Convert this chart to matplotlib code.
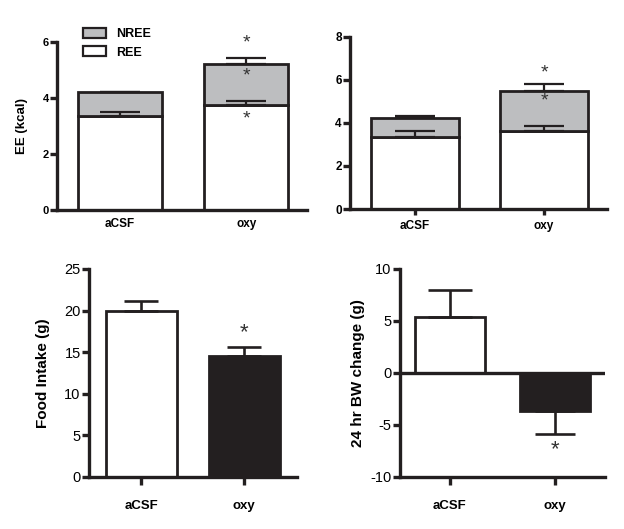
import numpy as np
import matplotlib.pyplot as plt

plt.rcParams['font.family'] = ['Liberation Sans', 'DejaVu Sans']
plt.rcParams['axes.unicode_minus'] = False

groups = ['aCSF', 'oxy']

# top left: energy expenditure, stacked REE + NREE
ee1_ree = [3.36, 3.75]
ee1_ree_err = [0.13, 0.14]
ee1_total = [4.20, 5.21]
ee1_total_err = [0.03, 0.21]
ee1_stars = [5.95, 4.8, 3.25]

# top right
ee2_ree = [3.36, 3.60]
ee2_ree_err = [0.26, 0.25]
ee2_total = [4.24, 5.50]
ee2_total_err = [0.06, 0.30]
ee2_stars = [6.3, 5.0]

# bottom left: food intake
food = [20.0, 14.5]
food_err = [1.2, 1.1]
food_star = 17.3

# bottom right: body weight change
bw = [5.4, -3.7]
bw_err = [2.6, 2.2]
bw_star = -7.4

gray = '#bdbec0'
black = '#231f20'
lw_axis = 2.4
lw_bar = 2.0

fig = plt.figure(figsize=(6.24, 5.29), dpi=100)
ax1 = fig.add_axes([0.0913, 0.603, 0.401, 0.3176])
ax2 = fig.add_axes([0.561, 0.6049, 0.412, 0.3257])
ax3 = fig.add_axes([0.1426, 0.0989, 0.333, 0.3926])
ax4 = fig.add_axes([0.6405, 0.0989, 0.329, 0.3926])

x = np.arange(len(groups))


def style(ax, tick_size, tick_bold, xticks=True, xpad=11):
    for s in ['top', 'right']:
        ax.spines[s].set_visible(False)
    for s in ['left', 'bottom']:
        ax.spines[s].set_linewidth(lw_axis)
        ax.spines[s].set_color(black)
    ax.tick_params(axis='y', width=lw_axis, length=5, labelsize=tick_size, pad=1,
                   color=black)
    ax.tick_params(axis='x', width=lw_axis, length=6 if xticks else 0, pad=xpad,
                   color=black)
    for lab in ax.get_yticklabels():
        lab.set_fontweight('bold' if tick_bold else 'normal')


def stacked(ax, ree, ree_err, total, total_err, width, cap):
    nree = [t - r for t, r in zip(total, ree)]
    ax.bar(x, ree, width, color='white', edgecolor=black, linewidth=lw_bar, zorder=2)
    ax.bar(x, nree, width, bottom=ree, color=gray, edgecolor=black, linewidth=lw_bar, zorder=2)
    ax.errorbar(x, ree, yerr=[np.zeros(2), ree_err], fmt='none', ecolor=black,
                elinewidth=1.6, capsize=cap, capthick=1.6, zorder=3)
    ax.errorbar(x, total, yerr=[np.zeros(2), total_err], fmt='none', ecolor=black,
                elinewidth=1.6, capsize=cap, capthick=1.6, zorder=3)


# top left
stacked(ax1, ee1_ree, ee1_ree_err, ee1_total, ee1_total_err, 0.667, 14.5)
ax1.set_xlim(-0.5, 1.484)
ax1.set_ylim(0, 6)
ax1.set_yticks([0, 2, 4, 6])
ax1.set_xticks(x)
ax1.set_xticklabels(groups, fontsize=8.5, fontweight='bold')
ax1.set_ylabel('EE (kcal)', fontsize=9.5, fontweight='bold', labelpad=10)
style(ax1, 8, True, xticks=False, xpad=6)
for yv in ee1_stars:
    ax1.text(x[1], yv, '*', ha='center', va='center', fontsize=14, color='#333333')
leg_handles = [plt.Rectangle((0, 0), 1, 1, facecolor=gray, edgecolor=black, linewidth=1.6),
               plt.Rectangle((0, 0), 1, 1, facecolor='white', edgecolor=black, linewidth=1.6)]
ax1.legend(leg_handles, ['NREE', 'REE'], loc='upper left', bbox_to_anchor=(0.06, 1.15),
           frameon=False, prop={'size': 9, 'weight': 'bold'}, handlelength=1.8,
           handleheight=0.8, labelspacing=0.5, handletextpad=0.8)

# top right
stacked(ax2, ee2_ree, ee2_ree_err, ee2_total, ee2_total_err, 0.68, 14.5)
ax2.set_xlim(-0.504, 1.49)
ax2.set_ylim(0, 8)
ax2.set_yticks([0, 2, 4, 6, 8])
ax2.set_xticks(x)
ax2.set_xticklabels(groups, fontsize=8.5, fontweight='bold')
style(ax2, 8.5, True)
ax2.tick_params(axis='x', length=4, pad=4)
for yv in ee2_stars:
    ax2.text(x[1], yv, '*', ha='center', va='center', fontsize=14, color='#333333')

# bottom left
ax3.bar(x, food, 0.69, color=['white', black], edgecolor=black, linewidth=lw_bar, zorder=2)
ax3.errorbar(x, food, yerr=[np.zeros(2), food_err], fmt='none', ecolor=black,
             elinewidth=1.9, capsize=12.5, capthick=1.9, zorder=3)
ax3.set_xlim(-0.51, 1.51)
ax3.set_ylim(0, 25)
ax3.set_yticks([0, 5, 10, 15, 20, 25])
ax3.set_xticks(x)
ax3.set_xticklabels(groups, fontsize=9.5, fontweight='bold')
ax3.set_ylabel('Food Intake (g)', fontsize=11, fontweight='bold', labelpad=10)
style(ax3, 10.5, False)
ax3.text(x[1], food_star, '*', ha='center', va='center', fontsize=16, color='#333333')

# bottom right
ax4.bar(x, bw, 0.67, color=['white', black], edgecolor=black, linewidth=lw_bar, zorder=2)
ax4.errorbar(x[0], bw[0], yerr=[[0], [bw_err[0]]], fmt='none', ecolor=black,
             elinewidth=1.9, capsize=16, capthick=1.9, zorder=3)
ax4.errorbar(x[1], bw[1], yerr=[[bw_err[1]], [0]], fmt='none', ecolor=black,
             elinewidth=1.9, capsize=14.5, capthick=1.9, zorder=3)
ax4.axhline(0, color=black, linewidth=lw_axis, zorder=4)
ax4.set_xlim(-0.48, 1.48)
ax4.set_ylim(-10, 10)
ax4.set_yticks([-10, -5, 0, 5, 10])
ax4.set_xticks(x)
ax4.set_xticklabels(groups, fontsize=9.5, fontweight='bold')
ax4.set_ylabel('24 hr BW change (g)', fontsize=11, fontweight='bold', labelpad=4)
style(ax4, 10.5, False)
ax4.text(x[1], bw_star, '*', ha='center', va='center', fontsize=16, color='#333333')

fig.savefig('out.png', dpi=100)
